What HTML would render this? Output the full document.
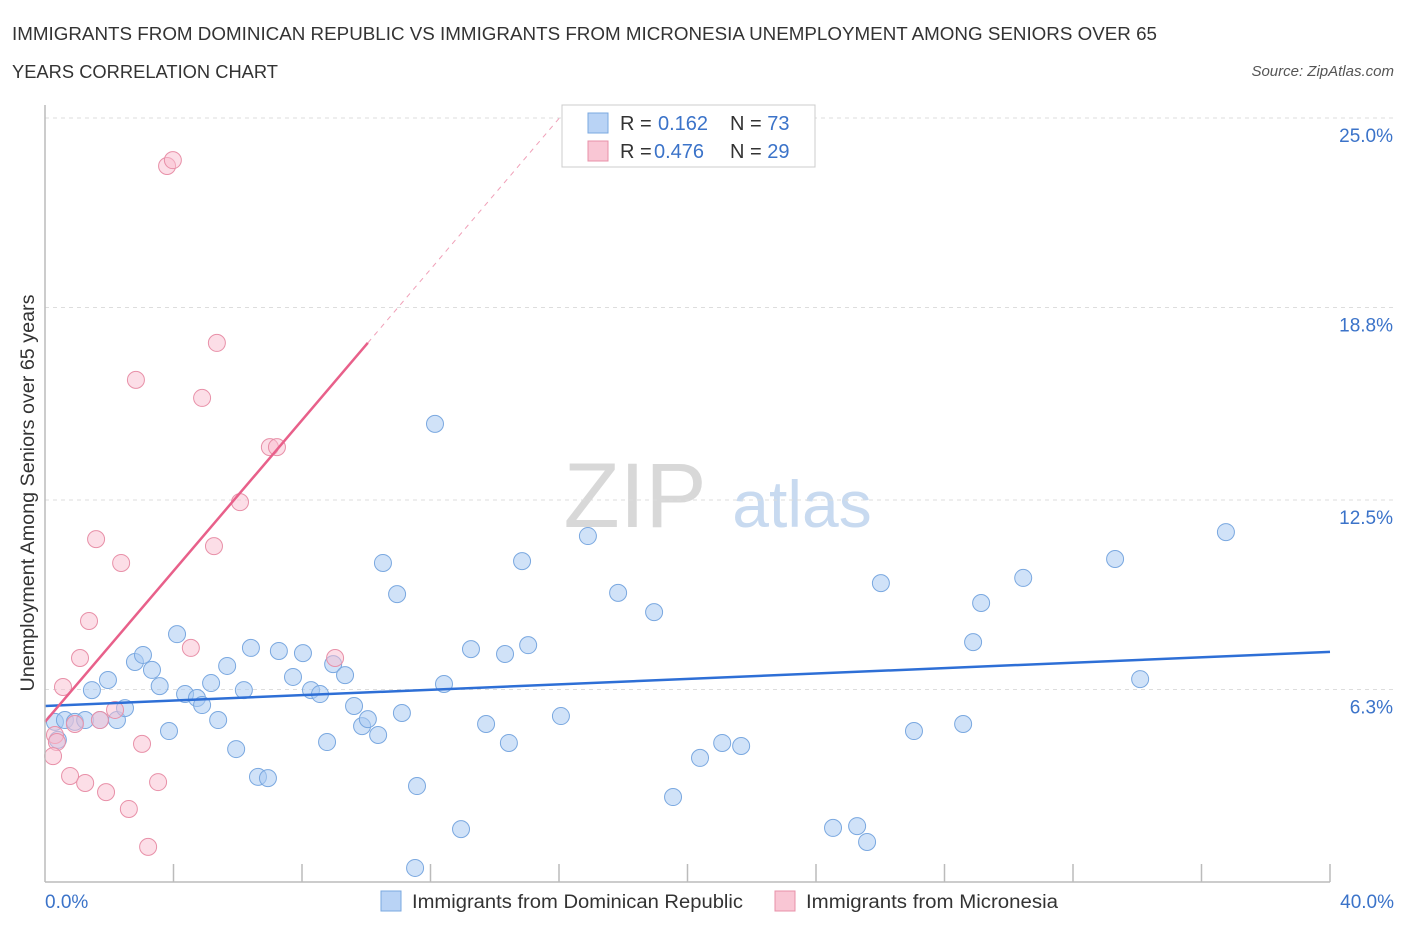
<!DOCTYPE html>
<html><head><meta charset="utf-8"><style>
body{margin:0;background:#fff;font-family:"Liberation Sans",sans-serif;}
svg text{font-family:"Liberation Sans",sans-serif;}
</style></head><body>
<svg id="chart" width="1406" height="930" xmlns="http://www.w3.org/2000/svg">
<text x="12" y="40" font-size="18" fill="#333" textLength="1145" lengthAdjust="spacingAndGlyphs">IMMIGRANTS FROM DOMINICAN REPUBLIC VS IMMIGRANTS FROM MICRONESIA UNEMPLOYMENT AMONG SENIORS OVER 65</text>
<text x="12" y="78" font-size="18" fill="#333" textLength="266" lengthAdjust="spacingAndGlyphs">YEARS CORRELATION CHART</text>
<text x="1394" y="76" font-size="15" fill="#555" font-style="italic" text-anchor="end">Source: ZipAtlas.com</text>
<text x="34" y="493" font-size="19" fill="#333" text-anchor="middle" textLength="397" lengthAdjust="spacingAndGlyphs" transform="rotate(-90 34 493)">Unemployment Among Seniors over 65 years</text>
<text x="635" y="527" font-size="92" fill="#d8d8d8" text-anchor="middle" font-family="Liberation Serif">ZIP</text>
<text x="802" y="527" font-size="66" fill="#c8daf0" text-anchor="middle">atlas</text>
<g id="grid"></g><g id="pts"></g><g id="lines"></g>
<line x1="45" y1="105" x2="45" y2="882" stroke="#bbb" stroke-width="1.5"/>
<line x1="45" y1="882" x2="1330" y2="882" stroke="#bbb" stroke-width="1.5"/>
<text x="45" y="908" font-size="19" fill="#3b73c9">0.0%</text>
<text x="1394" y="908" font-size="19" fill="#3b73c9" text-anchor="end">40.0%</text>
<rect x="562" y="105" width="253" height="62" fill="#fff" stroke="#ccc"/>
<rect x="588" y="113" width="20" height="20" fill="#b9d3f5" stroke="#7aa8e0"/>
<rect x="588" y="141" width="20" height="20" fill="#f9c6d4" stroke="#e890a8"/>
<text x="620" y="130" font-size="20" fill="#333">R = <tspan x="658" fill="#3b73c9">0.162</tspan><tspan x="730">N = </tspan><tspan fill="#3b73c9">73</tspan></text>
<text x="620" y="158" font-size="20" fill="#333">R = <tspan x="654" fill="#3b73c9">0.476</tspan><tspan x="730">N = </tspan><tspan fill="#3b73c9">29</tspan></text>
<rect x="381" y="891" width="20" height="20" fill="#b9d3f5" stroke="#7aa8e0"/>
<text x="412" y="908" font-size="19" fill="#333" textLength="331" lengthAdjust="spacingAndGlyphs">Immigrants from Dominican Republic</text>
<rect x="775" y="891" width="20" height="20" fill="#f9c6d4" stroke="#e890a8"/>
<text x="806" y="908" font-size="19" fill="#333" textLength="252" lengthAdjust="spacingAndGlyphs">Immigrants from Micronesia</text>
</svg>
<script>
const yTicks=[6.3,12.5,18.8,25.0];
const yTickLabels=["6.3%","12.5%","18.8%","25.0%"];
const xTickCount=10;
const blueX=[0.31,0.62,0.93,1.25,1.71,2.24,0.40,1.46,1.96,2.49,2.80,3.05,3.33,3.57,3.86,4.11,4.36,4.73,4.89,5.17,5.39,5.67,5.95,6.19,6.41,6.63,6.94,7.28,7.72,8.03,8.28,8.56,8.78,8.97,9.34,9.62,9.87,10.05,10.37,10.52,10.96,11.11,11.58,11.52,12.14,12.42,12.95,13.26,13.73,14.32,14.44,14.85,15.04,16.06,16.90,17.84,18.96,19.55,20.39,21.08,21.67,24.53,25.28,25.59,26.02,27.05,28.58,28.89,29.14,30.45,33.31,34.09,36.76];
const blueY=[5.24,5.30,5.24,5.30,5.30,5.30,4.65,6.28,6.61,5.69,7.20,7.43,6.94,6.41,4.94,8.11,6.15,6.02,5.79,6.51,5.30,7.07,4.35,6.28,7.66,3.44,3.40,7.56,6.71,7.49,6.28,6.15,4.58,7.13,6.77,5.76,5.10,5.33,4.81,10.44,9.42,5.53,3.14,0.46,14.99,6.48,1.73,7.62,5.17,7.46,4.55,10.50,7.75,5.43,11.32,9.46,8.83,2.78,4.06,4.55,4.45,1.77,1.83,1.31,9.78,4.94,5.17,7.85,9.13,9.95,10.57,6.64,11.45];
const pinkX=[0.31,0.37,0.25,0.56,0.78,0.93,1.09,1.25,1.37,1.59,1.71,1.90,2.18,2.37,2.61,2.83,3.02,3.21,3.52,3.80,3.98,4.54,4.89,5.26,5.35,6.07,7.00,7.22,9.03];
const pinkY=[4.81,4.58,4.12,6.38,3.47,5.17,7.33,3.24,8.54,11.22,5.30,2.94,5.63,10.44,2.39,16.43,4.52,1.15,3.27,23.43,23.62,7.66,15.84,10.99,17.64,12.43,14.23,14.23,7.33];
const blueTrend=[5.76,7.53];
const pinkTrend=[5.24,1.234];
const NS="http://www.w3.org/2000/svg";
const sx=v=>45+v/40*1285, sy=v=>882-v/25*764;
function mk(t,a,p){const e=document.createElementNS(NS,t);for(const k in a)e.setAttribute(k,a[k]);p.appendChild(e);return e;}
const grid=document.getElementById('grid'),pts=document.getElementById('pts'),lines=document.getElementById('lines');
yTicks.forEach((t,i)=>{
 const l=mk('line',{x1:45,x2:1395,y1:sy(t),y2:sy(t),stroke:'#ddd','stroke-dasharray':'4,4'},grid);
 
 
 const tx=mk('text',{x:1393,y:sy(t)+24,'font-size':19,fill:'#3b73c9','text-anchor':'end'},grid);
 tx.textContent=yTickLabels[i];
 
 
});
for(let i=1;i<=xTickCount;i++){
 const x=sx(i*40/xTickCount);
 const l=mk('line',{x1:x,x2:x,y1:864,y2:882,stroke:'#bbb','stroke-width':1.5},grid);
 
 
}
blueX.forEach((x,i)=>{
 const c=mk('circle',{cx:sx(x),cy:sy(blueY[i]),r:8.5,fill:'rgba(170,202,242,0.55)',stroke:'#7aa8e0','stroke-width':1},pts);
 
 
});
pinkX.forEach((x,i)=>{
 const c=mk('circle',{cx:sx(x),cy:sy(pinkY[i]),r:8.5,fill:'rgba(249,190,207,0.5)',stroke:'#e890a8','stroke-width':1},pts);
 
 
});
const bl=mk('line',{x1:sx(0),y1:sy(blueTrend[0]),x2:sx(40),y2:sy(blueTrend[1]),stroke:'#2e6fd6','stroke-width':2.5},lines);


const pEnd=10.05, pFar=(25-pinkTrend[0])/pinkTrend[1];
const pl=mk('line',{x1:sx(0),y1:sy(pinkTrend[0]),x2:sx(pEnd),y2:sy(pinkTrend[0]+pinkTrend[1]*pEnd),stroke:'#e8608a','stroke-width':2.5},lines);


const pd=mk('line',{x1:sx(pEnd),y1:sy(pinkTrend[0]+pinkTrend[1]*pEnd),x2:sx(pFar),y2:sy(25),stroke:'#f0a0b8','stroke-width':1,'stroke-dasharray':'5,5'},lines);


</script>
</body></html>
